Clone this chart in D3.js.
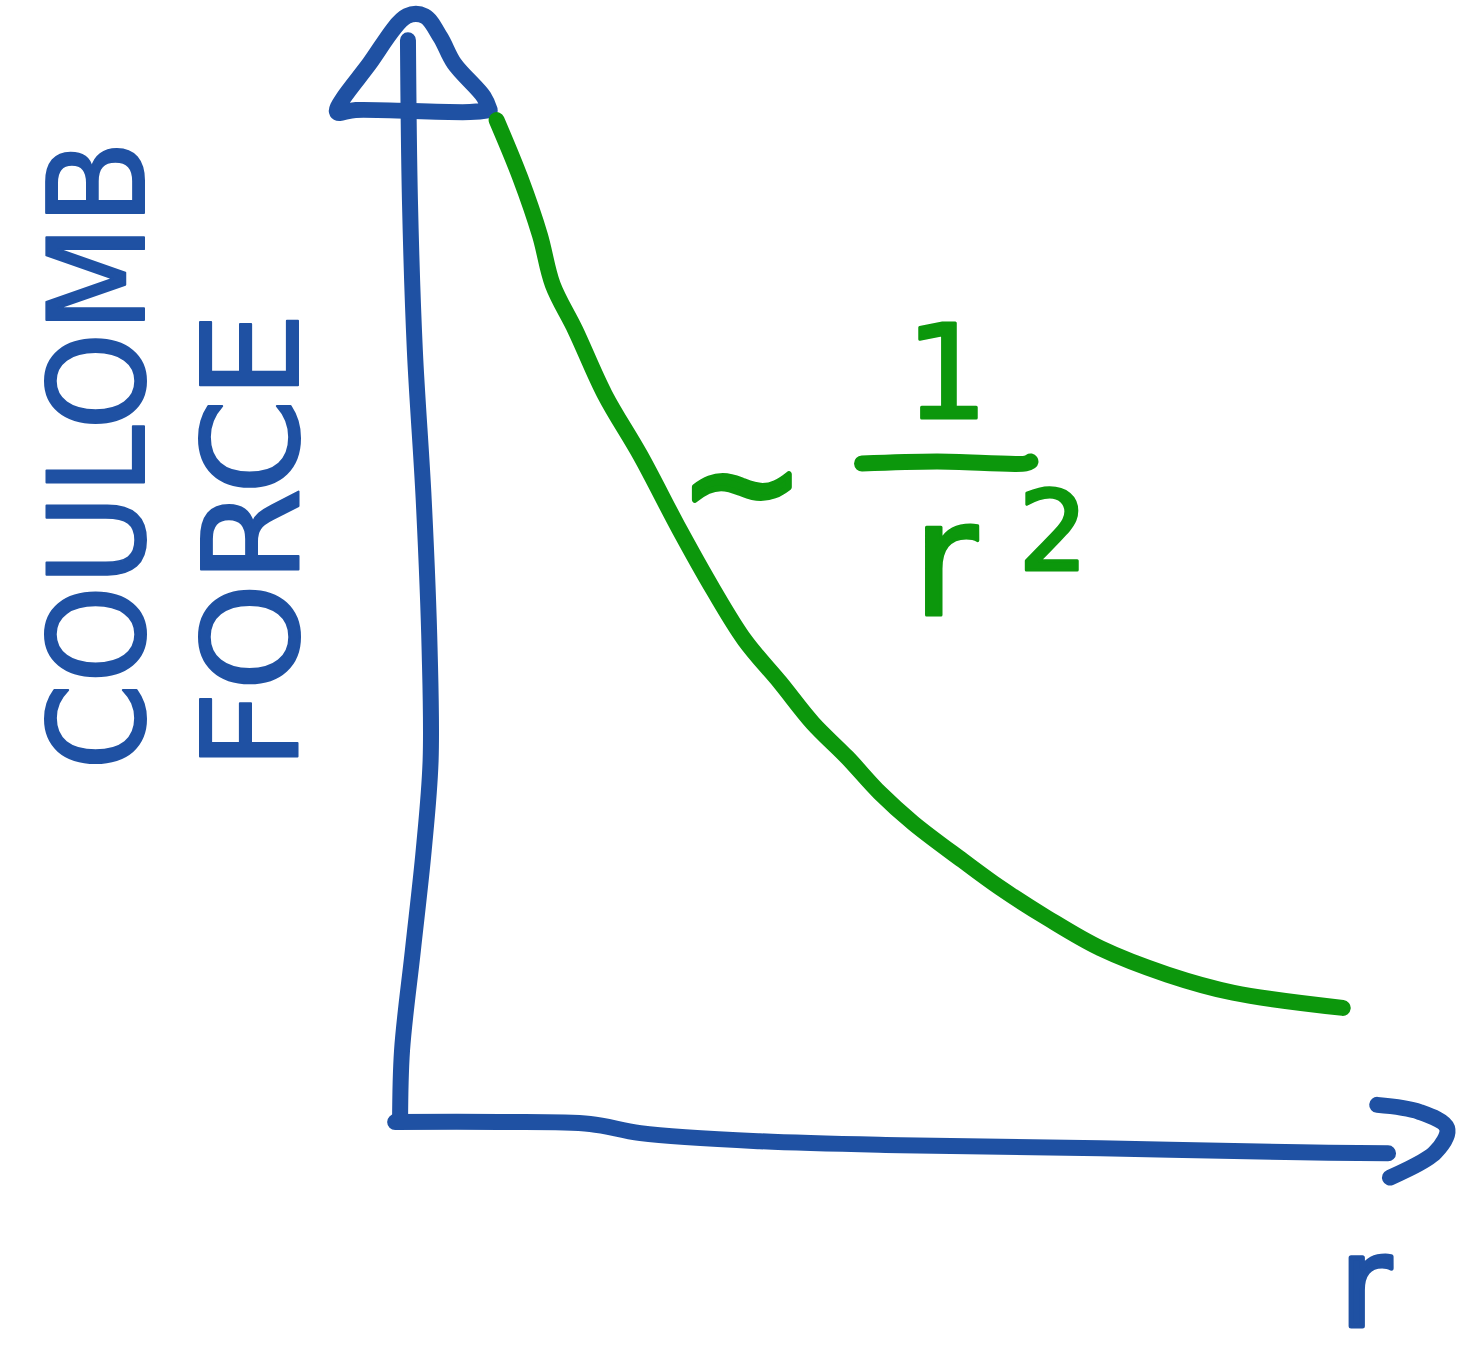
<!DOCTYPE html>
<html>
<head>
<meta charset="utf-8">
<script src="https://cdn.jsdelivr.net/npm/d3@7"></script>
<style>
  html, body { margin: 0; padding: 0; background: #ffffff; }
  svg { display: block; }
</style>
</head>
<body>
<svg id="chart" width="1480" height="1357"></svg>
<script>
// Coulomb force falling off with distance r (sketch-style), in plot units 0..10.
const curveR     = [0.93, 1.17, 1.37, 1.50, 1.73, 2.03, 2.39, 2.79, 3.13, 3.45, 3.81, 4.14, 4.49, 4.82, 5.16, 5.66, 6.04, 6.52, 7.06, 7.74, 8.41, 9.52];
const curveForce = [9.90, 9.33, 8.76, 8.27, 7.82, 7.18, 6.58, 5.84, 5.25, 4.75, 4.33, 3.93, 3.59, 3.24, 2.94, 2.57, 2.30, 2.00, 1.70, 1.44, 1.26, 1.11];

// Hand-drawn axis strokes, in the same plot units.
const yAxisX = [-0.05, -0.03, 0.08, 0.19, 0.26, 0.25, 0.19, 0.10, 0.05, 0.03];
const yAxisY = [-0.02, 0.69, 1.68, 2.67, 3.56, 4.65, 6.14, 7.62, 9.11, 10.69];
const xAxisX = [-0.10, 0.96, 1.88, 2.39, 3.60, 5.03, 7.06, 9.09, 9.98];
const xAxisY = [-0.02, -0.02, -0.04, -0.13, -0.21, -0.25, -0.28, -0.32, -0.33];
const yHeadX = [0.86, 0.80, 0.50, 0.36, 0.20, 0.02, -0.36, -0.69, -0.50, 0.66, 0.86];
const yHeadY = [10.00, 10.13, 10.46, 10.72, 10.93, 10.93, 10.46, 9.98, 10.00, 9.98, 10.00];
const xHeadX = [9.87, 10.30, 10.58, 10.46, 10.00];
const xHeadY = [0.15, 0.08, -0.08, -0.32, -0.57];
const fracBarX = [4.64, 5.40, 6.30, 6.35];
const fracBarY = [6.50, 6.52, 6.50, 6.52];

const yTitleLines = ["COULOMB", "FORCE"];
const xTitle = "r";
const lawTilde = "~";
const lawNumerator = "1";
const lawDenominator = "r";
const lawExponent = "2";

const BLUE = "#1f51a3";
const GREEN = "#0c970c";
const PEN = 16;

const svg = d3.select("#chart");
const x = d3.scaleLinear().domain([0, 10]).range([405, 1390]);
const y = d3.scaleLinear().domain([0, 10]).range([1120, 110]);

function drawStroke(xs, ys, color, width, curve) {
  const line = d3.line()
    .x((d, i) => x(xs[i]))
    .y((d, i) => y(ys[i]))
    .curve(curve || d3.curveCatmullRom.alpha(0.5));
  svg.append("path")
    .attr("d", line(xs))
    .attr("fill", "none")
    .attr("stroke", color)
    .attr("stroke-width", width)
    .attr("stroke-linecap", "round")
    .attr("stroke-linejoin", "round");
}

// Axes
drawStroke(yAxisX, yAxisY, BLUE, PEN);
drawStroke(yHeadX, yHeadY, BLUE, PEN);
drawStroke(xAxisX, xAxisY, BLUE, PEN);
drawStroke(xHeadX, xHeadY, BLUE, PEN);

// Force curve
drawStroke(curveR, curveForce, GREEN, PEN);

// Text helper
function label(txt, opts) {
  const t = svg.append("text")
    .text(txt)
    .attr("font-family", "'DejaVu Sans', sans-serif")
    .attr("font-size", opts.size)
    .attr("fill", opts.color)
    .attr("stroke", opts.color)
    .attr("stroke-width", opts.sw || 3)
    .attr("stroke-linejoin", "round")
    .attr("text-anchor", opts.anchor || "middle")
    .attr("transform", opts.transform);
  if (opts.length) t.attr("textLength", opts.length).attr("lengthAdjust", "spacingAndGlyphs");
  return t;
}

// Y-axis title, written bottom-to-top
label(yTitleLines[0], { size: 134, color: BLUE, anchor: "start", length: 630, sw: 2,
  transform: "translate(144,770) rotate(-90)" });
label(yTitleLines[1], { size: 134, color: BLUE, anchor: "start", length: 458, sw: 2,
  transform: "translate(298,770) rotate(-90)" });

// X-axis title
label(xTitle, { size: 125, color: BLUE, sw: 5, transform: `translate(${x(9.75)},${y(-2.04)})` });

// Proportionality annotation
label(lawTilde, { size: 150, color: GREEN, sw: 6, transform: `translate(${x(3.42)},${y(5.80)})` });
label(lawNumerator, { size: 130, color: GREEN, sw: 3, transform: `translate(${x(5.5)},${y(6.95)})` });
drawStroke(fracBarX, fracBarY, GREEN, PEN);
label(lawDenominator, { size: 160, color: GREEN, sw: 3, transform: `translate(${x(5.48)},${y(5.0)})` });
label(lawExponent, { size: 110, color: GREEN, sw: 3, transform: `translate(${x(6.58)},${y(5.45)})` });
</script>
</body>
</html>
